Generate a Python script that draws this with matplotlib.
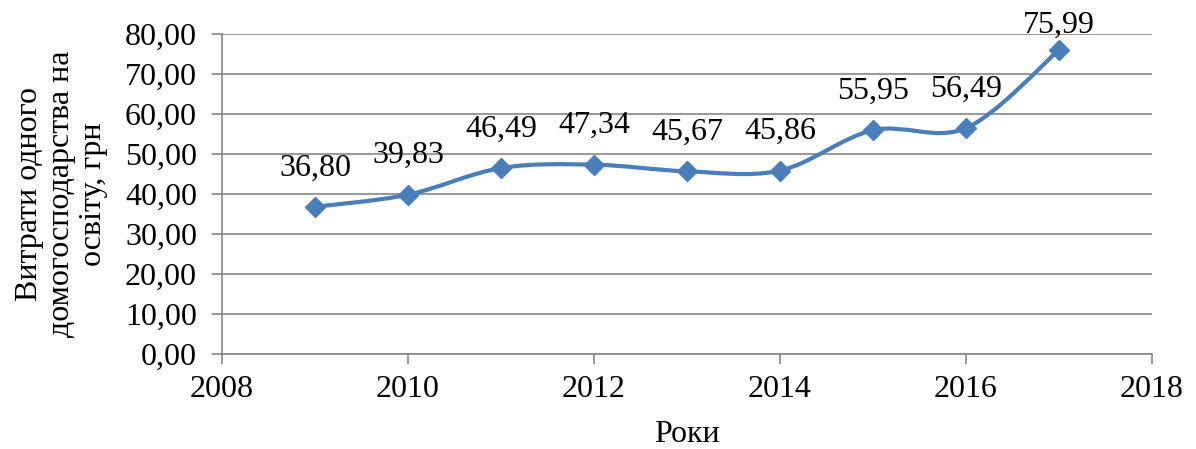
import matplotlib
matplotlib.use('Agg')
import matplotlib.pyplot as plt
from matplotlib.path import Path
from matplotlib.patches import PathPatch
from matplotlib.ticker import FuncFormatter

years = [2009, 2010, 2011, 2012, 2013, 2014, 2015, 2016, 2017]
spending = [36.80, 39.83, 46.49, 47.34, 45.67, 45.86, 55.95, 56.49, 75.99]
x_ticks = [2008, 2010, 2012, 2014, 2016, 2018]
y_ticks = [0, 10, 20, 30, 40, 50, 60, 70, 80]

plt.rcParams['font.family'] = ['Liberation Serif', 'DejaVu Serif']
fs = 23

blue = '#4a7ebb'
grey = '#878787'

fig = plt.figure(figsize=(11.96, 4.49), dpi=100)
ax = fig.add_axes([222/1196, 1 - 354/449, (1152 - 222)/1196, (354 - 34)/449])

# smoothed line like Excel (Catmull-Rom -> cubic bezier)
pts = list(zip(years, spending))
verts = [pts[0]]
codes = [Path.MOVETO]
for i in range(len(pts) - 1):
    p0 = pts[i - 1] if i > 0 else pts[i]
    p1 = pts[i]
    p2 = pts[i + 1]
    p3 = pts[i + 2] if i + 2 < len(pts) else pts[i + 1]
    c1 = (p1[0] + (p2[0] - p0[0]) / 6, p1[1] + (p2[1] - p0[1]) / 6)
    c2 = (p2[0] - (p3[0] - p1[0]) / 6, p2[1] - (p3[1] - p1[1]) / 6)
    verts += [c1, c2, p2]
    codes += [Path.CURVE4] * 3
ax.add_patch(PathPatch(Path(verts, codes), facecolor='none', edgecolor=blue,
                       lw=3, capstyle='round', joinstyle='round', zorder=3))
ax.plot(years, spending, linestyle='none', marker='D', ms=10, color=blue,
        mec=blue, zorder=4)

for i, (x, y) in enumerate(zip(years, spending)):
    dy = 18 if i == len(years) - 1 else 28
    ax.annotate(f'{y:.2f}'.replace('.', ','), (x, y), xytext=(0, dy),
                textcoords='offset points', ha='center', va='center',
                fontsize=fs, annotation_clip=False)

ax.set_xlim(2008, 2018)
ax.set_ylim(0, 80)
ax.set_xticks(x_ticks)
ax.set_yticks(y_ticks)
ax.yaxis.set_major_formatter(FuncFormatter(lambda v, p: f'{v:.2f}'.replace('.', ',')))
ax.grid(axis='y', color=grey, lw=1.2)
ax.set_axisbelow(True)
for s in ['top', 'right']:
    ax.spines[s].set_visible(False)
for s in ['left', 'bottom']:
    ax.spines[s].set_color(grey)
    ax.spines[s].set_linewidth(1.2)
ax.tick_params(axis='both', color=grey, width=1.2, length=7, labelsize=fs)
ax.tick_params(axis='y', pad=11)
ax.tick_params(axis='x', pad=8)

ax.set_xlabel('Роки', fontsize=fs, labelpad=12)
ax.set_ylabel('Витрати одного\nдомогосподарства на\nосвіту, грн', fontsize=fs,
              linespacing=1.15, labelpad=12)

plt.savefig('out.png', dpi=100)
